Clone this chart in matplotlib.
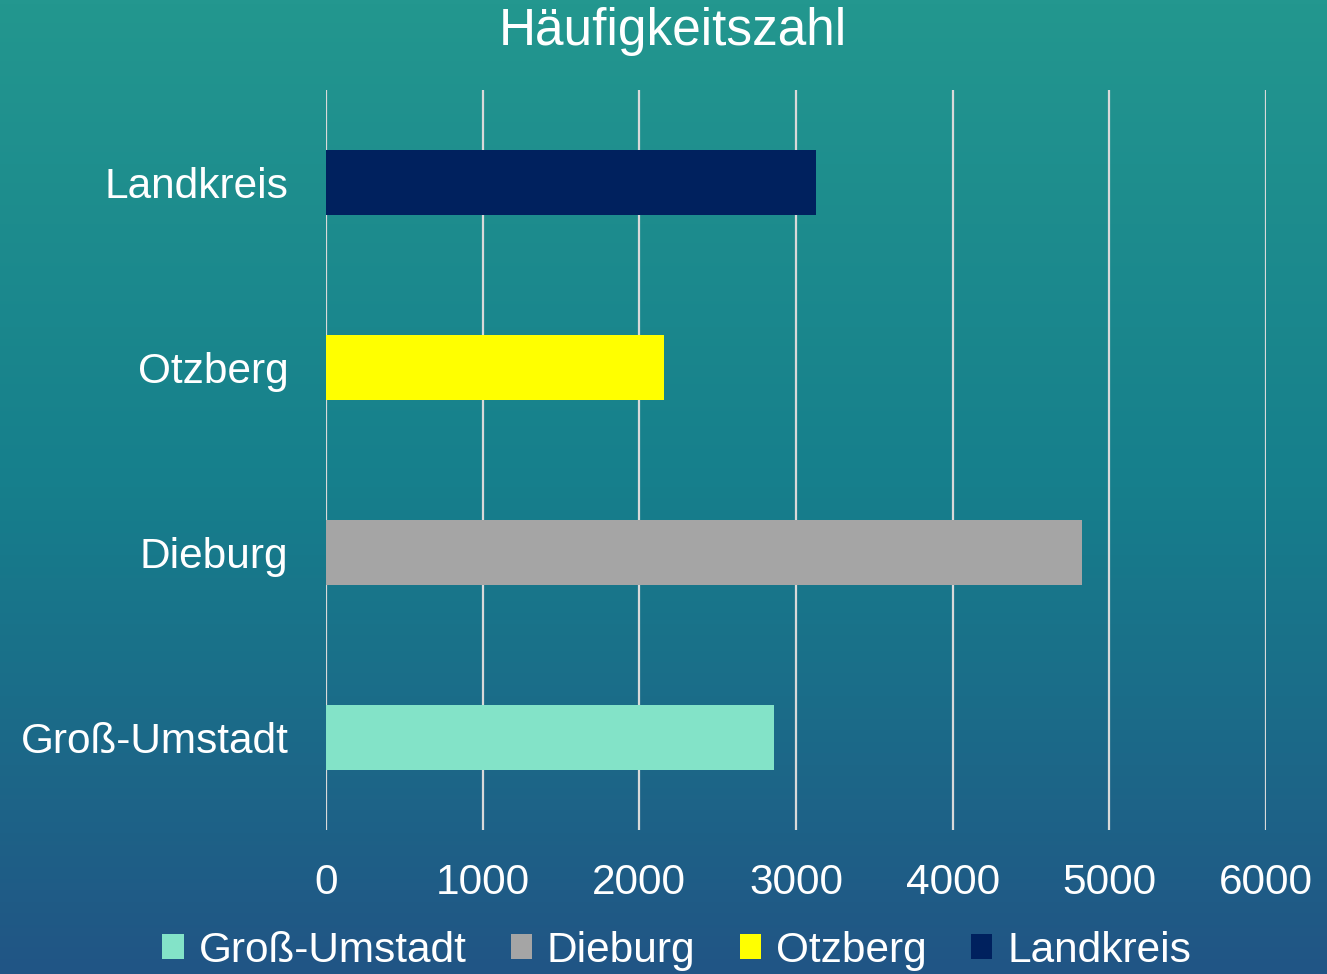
import numpy as np
import matplotlib
matplotlib.use("Agg")
import matplotlib.pyplot as plt
from matplotlib.colors import LinearSegmentedColormap

plt.rcParams['font.family'] = ['Liberation Sans', 'DejaVu Sans']

# data
regions = ["Groß-Umstadt", "Dieburg", "Otzberg", "Landkreis"]
values = [2860, 4825, 2155, 3130]
colors = ["#83E3C8", "#A5A5A5", "#FFFF00", "#00215E"]
xticks = [0, 1000, 2000, 3000, 4000, 5000, 6000]

fig = plt.figure(figsize=(13.27, 9.74), dpi=100)

# background gradient
bg = fig.add_axes([0, 0, 1, 1], zorder=-10)
cmap = LinearSegmentedColormap.from_list(
    "bg", [(0.0, "#23978F"), (0.5, "#167F8C"), (1.0, "#215585")])
grad = np.linspace(0, 1, 256).reshape(-1, 1)
bg.imshow(grad, aspect="auto", cmap=cmap, extent=[0, 1, 1, 0])
bg.set_axis_off()

ax = fig.add_axes([0.2457, 0.1478, 0.954 - 0.2457, 0.9076 - 0.1478])
ax.set_facecolor("none")

ypos = np.arange(len(regions))
for i in range(len(regions)):
    ax.barh(ypos[i], values[i], height=0.35, color=colors[i],
            label=regions[i], zorder=3)

ax.set_xlim(0, 6000)
ax.set_ylim(-0.5, 3.5)
ax.set_xticks(xticks)
ax.set_xticklabels([str(t) for t in xticks])
ax.set_yticks(ypos)
ax.set_yticklabels(regions)
ax.tick_params(axis="both", length=0, colors="white", labelsize=30.5)
ax.tick_params(axis="x", pad=24)
ax.tick_params(axis="y", pad=27)
ax.grid(axis="x", color="#D9D9D9", linewidth=1.6, zorder=0)
for s in ax.spines.values():
    s.set_visible(False)

fig.text(0.507, 0.968, "Häufigkeitszahl", ha="center", va="center",
         color="white", fontsize=37)

leg = fig.legend(loc="center", bbox_to_anchor=(0.51, 0.024), ncol=4,
                 frameon=False, fontsize=30.5, handlelength=0.5,
                 handleheight=0.55, handletextpad=0.35, columnspacing=1.05,
                 labelcolor="white")

fig.savefig("out.png", dpi=100)
